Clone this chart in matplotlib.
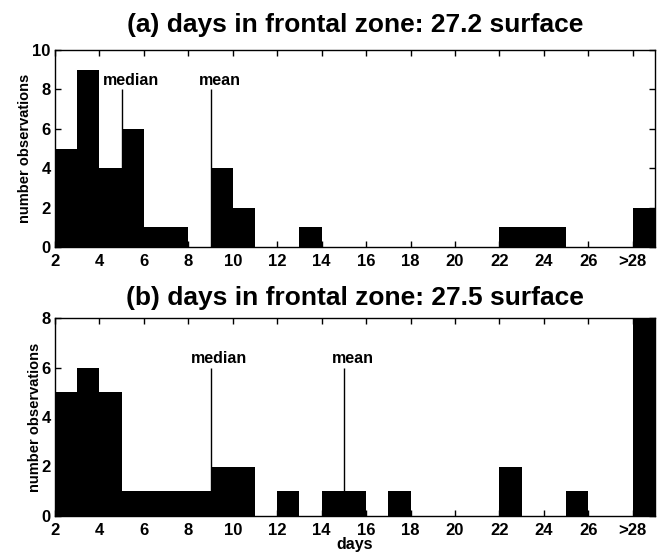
import numpy as np
import matplotlib
matplotlib.use('agg')
import matplotlib.pyplot as plt

plt.rcParams['font.family'] = ['Liberation Sans', 'DejaVu Sans']
plt.rcParams['font.weight'] = 'bold'

# one-day bins starting at day 2; last bin holds everything beyond 28 days
bin_edges = np.arange(2, 30)
counts_272 = [5, 9, 4, 6, 1, 1, 0, 4, 2, 0, 0, 1, 0, 0, 0, 0, 0, 0, 0, 0, 1, 1, 1, 0, 0, 0, 2]
counts_275 = [5, 6, 5, 1, 1, 1, 1, 2, 2, 0, 1, 0, 1, 1, 0, 1, 0, 0, 0, 0, 2, 0, 0, 1, 0, 0, 8]

xtick_pos = [2, 4, 6, 8, 10, 12, 14, 16, 18, 20, 22, 24, 26, 28]
xtick_lab = ['2', '4', '6', '8', '10', '12', '14', '16', '18', '20', '22', '24', '26', '>28']

titles = ['(a) days in frontal zone: 27.2 surface', '(b) days in frontal zone: 27.5 surface']
title_pad = [13, 9]
medians = [5, 9]
means = [9, 15]
marker_height = [8, 6]
ymax = [10, 8]

fig = plt.figure(figsize=(6.6, 5.52), dpi=100)
ax_a = fig.add_axes([55/660, 1 - 247/552, 600/660, 197/552])
ax_b = fig.add_axes([55/660, 1 - 516/552, 600/660, 198/552])

for ax, counts, title, tp, med, mn, h, ym in zip([ax_a, ax_b], [counts_272, counts_275], titles,
                                                title_pad, medians, means, marker_height, ymax):
    ax.stairs(counts, bin_edges, fill=True, color='black', linewidth=0)
    ax.set_xlim(2, 29)
    ax.set_ylim(0, ym)
    ax.set_yticks(np.arange(0, ym + 1, 2))
    ax.set_xticks(xtick_pos)
    ax.set_xticklabels(xtick_lab)
    ax.tick_params(direction='in', top=True, right=True, length=4, width=1,
                   labelsize=12, pad=3)
    ax.tick_params(axis='x', pad=5)
    for lab in ax.get_xticklabels() + ax.get_yticklabels():
        lab.set_fontweight('bold')
    ax.set_ylabel('number observations', fontsize=10.5, fontweight='bold', labelpad=0)
    ax.set_title(title, fontsize=19, fontweight='bold', pad=tp)
    for x, name in [(med, 'median'), (mn, 'mean')]:
        ax.vlines(x, 0, h, color='black', linewidth=1)
        ax.text(x + 0.4, h + 0.05, name, ha='center', va='bottom', fontsize=11.5, fontweight='bold')
    for s in ax.spines.values():
        s.set_linewidth(1)

ax_b.set_xlabel('days', fontsize=11.5, fontweight='bold', labelpad=-1)

fig.savefig('out.png', dpi=100)
